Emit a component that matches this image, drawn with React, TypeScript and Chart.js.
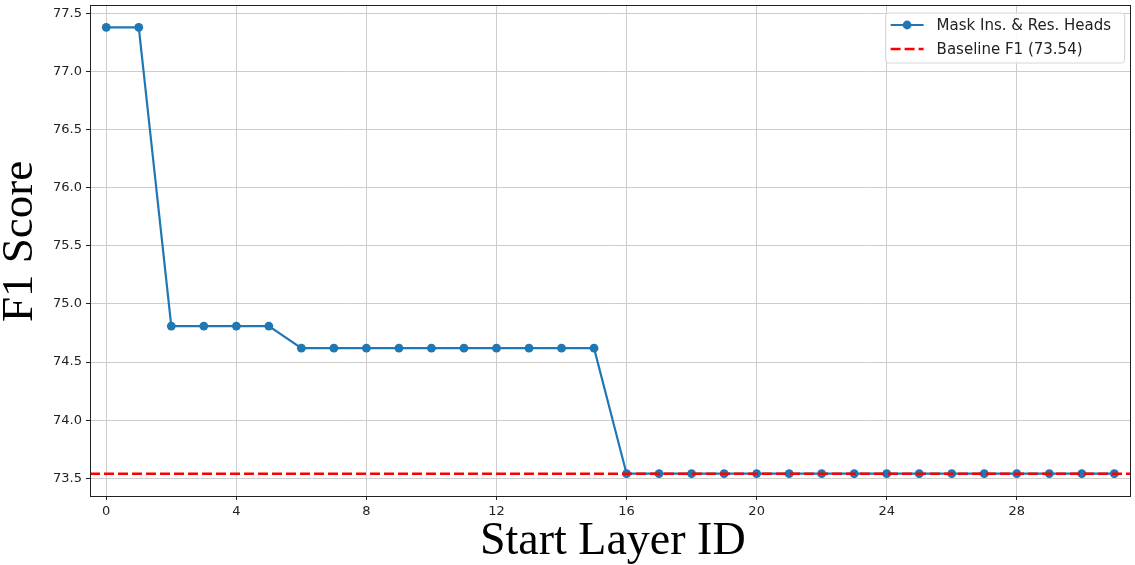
import React, { useEffect, useRef } from "react";
import { Chart, registerables } from "chart.js";

Chart.register(...registerables);

const layerIds: number[] = Array.from({ length: 32 }, (_, i) => i);
const f1Scores: number[] = [
  77.38, 77.38,
  74.81, 74.81, 74.81, 74.81,
  74.62, 74.62, 74.62, 74.62, 74.62, 74.62, 74.62, 74.62, 74.62, 74.62,
  73.54, 73.54, 73.54, 73.54, 73.54, 73.54, 73.54, 73.54,
  73.54, 73.54, 73.54, 73.54, 73.54, 73.54, 73.54, 73.54,
];
const baselineF1 = 73.54;
const xTicks: number[] = [0, 4, 8, 12, 16, 20, 24, 28];
const yTicks: number[] = [73.5, 74.0, 74.5, 75.0, 75.5, 76.0, 76.5, 77.0, 77.5];
const seriesLabel = "Mask Ins. & Res. Heads";
const baselineLabel = `Baseline F1 (${baselineF1.toFixed(2)})`;
const xTitle = "Start Layer ID";
const yTitle = "F1 Score";

const BLUE = "#1f77b4";
const RED = "#ff0000";
const GRID = "#cdcdcd";
const DARK = "#222222";
const DASH = [10, 4];

const boxPlugin = {
  id: "axesBox",
  afterDraw(chart: any) {
    const { ctx, chartArea: a } = chart;
    ctx.save();
    ctx.strokeStyle = DARK;
    ctx.lineWidth = 1;
    ctx.strokeRect(Math.round(a.left) + 0.5, Math.round(a.top) + 0.5, Math.round(a.right - a.left) - 1, Math.round(a.bottom - a.top));
    ctx.restore();
  },
};

const titlesPlugin = {
  id: "axisTitles",
  afterDraw(chart: any) {
    const { ctx, chartArea: a } = chart;
    ctx.save();
    ctx.fillStyle = "#000";
    ctx.font = '46px "Liberation Serif"';
    ctx.textAlign = "center";
    ctx.textBaseline = "alphabetic";
    ctx.fillText(xTitle, (a.left + a.right) / 2 + 2.5, 554);
    ctx.translate(32, (a.top + a.bottom) / 2 - 9);
    ctx.rotate(-Math.PI / 2);
    ctx.font = '45px "Liberation Serif"';
    ctx.fillText(yTitle, 0, 0);
    ctx.restore();
  },
};

const legendPlugin = {
  id: "mplLegend",
  afterDraw(chart: any) {
    const { ctx, chartArea: a } = chart;
    const right = a.right - 6;
    const w = 239;
    const h = 50;
    const x0 = right - w;
    const y0 = a.top + 8;
    ctx.save();
    ctx.beginPath();
    const r = 3;
    ctx.moveTo(x0 + r, y0);
    ctx.arcTo(x0 + w, y0, x0 + w, y0 + h, r);
    ctx.arcTo(x0 + w, y0 + h, x0, y0 + h, r);
    ctx.arcTo(x0, y0 + h, x0, y0, r);
    ctx.arcTo(x0, y0, x0 + w, y0, r);
    ctx.closePath();
    ctx.fillStyle = "rgba(255,255,255,0.85)";
    ctx.fill();
    ctx.strokeStyle = "#d6d6d6";
    ctx.lineWidth = 1;
    ctx.stroke();

    const lx0 = x0 + 5;
    const lx1 = x0 + 38;
    const ty1 = y0 + 12;
    const ty2 = y0 + 36;
    ctx.strokeStyle = BLUE;
    ctx.lineWidth = 2.2;
    ctx.beginPath();
    ctx.moveTo(lx0, ty1);
    ctx.lineTo(lx1, ty1);
    ctx.stroke();
    ctx.fillStyle = BLUE;
    ctx.beginPath();
    ctx.arc((lx0 + lx1) / 2, ty1, 4.4, 0, Math.PI * 2);
    ctx.fill();
    ctx.strokeStyle = RED;
    ctx.lineWidth = 2.5;
    ctx.setLineDash(DASH);
    ctx.beginPath();
    ctx.moveTo(lx0, ty2);
    ctx.lineTo(lx1, ty2);
    ctx.stroke();
    ctx.setLineDash([]);

    ctx.fillStyle = DARK;
    ctx.font = '15px "DejaVu Sans"';
    ctx.textBaseline = "middle";
    ctx.textAlign = "left";
    ctx.fillText(seriesLabel, x0 + 51, ty1 + 1);
    ctx.fillText(baselineLabel, x0 + 51, ty2 + 1);
    ctx.restore();
  },
};

export default function App() {
  const ref = useRef<HTMLCanvasElement | null>(null);
  useEffect(() => {
    document.body.style.margin = "0";
    const canvas = ref.current!;
    const chart = new Chart(canvas, {
      type: "line",
      data: {
        datasets: [
          {
            label: baselineLabel,
            data: [
              { x: -0.5, y: baselineF1 },
              { x: 31.5, y: baselineF1 },
            ],
            borderColor: RED,
            borderWidth: 2.5,
            borderDash: DASH,
            pointRadius: 0,
            fill: false,
            order: 0,
          },
          {
            label: seriesLabel,
            data: layerIds.map((x, i) => ({ x, y: f1Scores[i] })),
            borderColor: BLUE,
            backgroundColor: BLUE,
            borderWidth: 2.2,
            pointRadius: 4.4,
            pointBorderWidth: 0,
            pointBackgroundColor: BLUE,
            fill: false,
            tension: 0,
            order: 1,
          },
        ],
      },
      options: {
        animation: false,
        responsive: false,
        maintainAspectRatio: false,
        layout: { padding: { top: 5, right: 1, left: 0, bottom: 0 } },
        plugins: { legend: { display: false }, tooltip: { enabled: false } },
        scales: {
          x: {
            type: "linear",
            min: -0.5,
            max: 31.5,
            afterBuildTicks: (s: any) => {
              s.ticks = xTicks.map((v) => ({ value: v }));
            },
            afterFit: (s: any) => {
              s.height = 69;
              s.paddingLeft = 0;
              s.paddingRight = 0;
            },
            grid: { color: GRID, lineWidth: 1, tickLength: 4, tickColor: DARK, tickWidth: 1 },
            border: { display: false },
            ticks: {
              color: DARK,
              font: { family: "DejaVu Sans", size: 13 },
              padding: 4,
              maxRotation: 0,
              autoSkip: false,
              callback: (v: any) => String(v),
            },
          },
          y: {
            type: "linear",
            min: 73.348,
            max: 77.572,
            afterBuildTicks: (s: any) => {
              s.ticks = yTicks.map((v) => ({ value: v }));
            },
            afterFit: (s: any) => {
              s.width = 90;
              s.paddingTop = 0;
              s.paddingBottom = 0;
            },
            grid: { color: GRID, lineWidth: 1, tickLength: 4, tickColor: DARK, tickWidth: 1 },
            border: { display: false },
            ticks: {
              color: DARK,
              font: { family: "DejaVu Sans", size: 13 },
              padding: 4,
              autoSkip: false,
              callback: (v: any) => Number(v).toFixed(1),
            },
          },
        },
      },
      plugins: [boxPlugin, titlesPlugin, legendPlugin],
    });
    return () => chart.destroy();
  }, []);
  return (
    <div style={{ width: 1135, height: 565 }}>
      <canvas ref={ref} width={1135} height={565} style={{ display: "block", width: 1135, height: 565 }} />
    </div>
  );
}
